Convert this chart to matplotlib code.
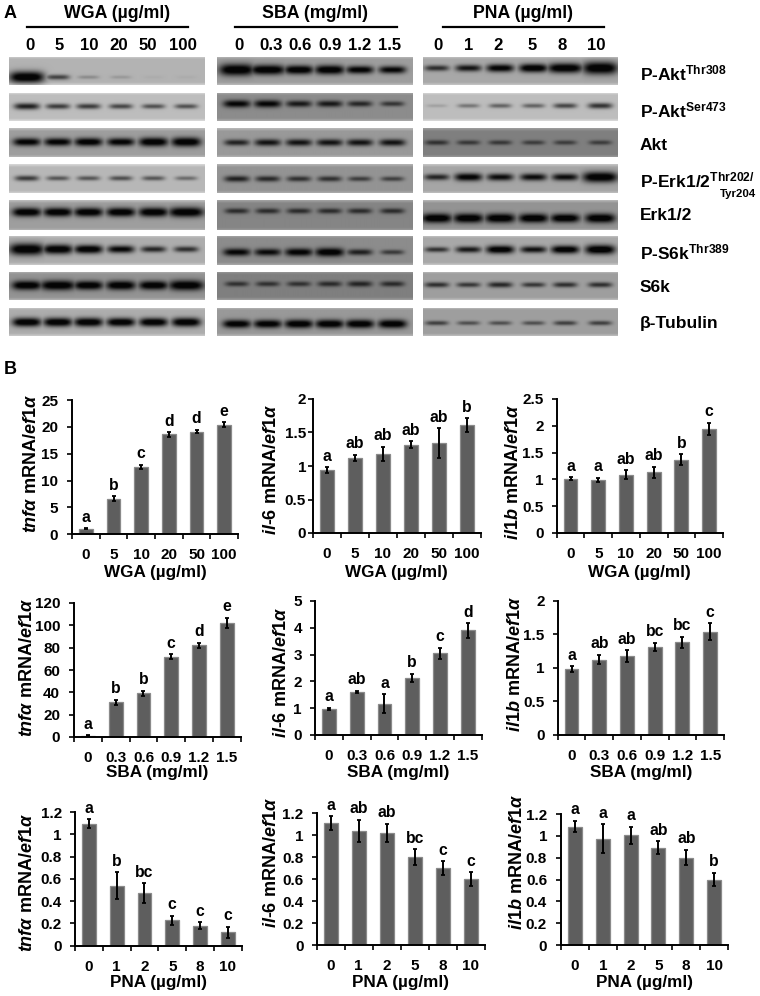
import matplotlib
matplotlib.use('Agg')
import matplotlib.pyplot as plt
import numpy as np

plt.rcParams['font.family'] = ['Liberation Sans', 'DejaVu Sans']
plt.rcParams['font.weight'] = 'bold'
plt.rcParams['mathtext.fontset'] = 'custom'
plt.rcParams['mathtext.rm'] = 'Liberation Sans:bold'
plt.rcParams['mathtext.it'] = 'Liberation Sans:italic:bold'
plt.rcParams['mathtext.bf'] = 'Liberation Sans:bold'

# --- bar chart values
wga_doses = ['0', '5', '10', '20', '50', '100']
sba_doses = ['0', '0.3', '0.6', '0.9', '1.2', '1.5']
pna_doses = ['0', '1', '2', '5', '8', '10']

tnfa_wga = [1.0, 6.6, 12.5, 18.6, 19.1, 20.4]
tnfa_wga_err = [0.1, 0.45, 0.4, 0.4, 0.3, 0.45]
tnfa_wga_sig = ['a', 'b', 'c', 'd', 'd', 'e']
il6_wga = [0.94, 1.12, 1.18, 1.32, 1.34, 1.61]
il6_wga_err = [0.04, 0.05, 0.11, 0.05, 0.22, 0.1]
il6_wga_sig = ['a', 'ab', 'ab', 'ab', 'ab', 'b']
il1b_wga = [1.01, 0.99, 1.09, 1.13, 1.37, 1.94]
il1b_wga_err = [0.03, 0.04, 0.08, 0.1, 0.1, 0.12]
il1b_wga_sig = ['a', 'a', 'ab', 'ab', 'b', 'c']

tnfa_sba = [1, 31, 39, 72, 82, 102.5]
tnfa_sba_err = [0.5, 2.5, 2.5, 2, 2.5, 4.5]
tnfa_sba_sig = ['a', 'b', 'b', 'c', 'd', 'e']
il6_sba = [0.98, 1.6, 1.17, 2.13, 3.05, 3.9]
il6_sba_err = [0.03, 0.04, 0.35, 0.15, 0.2, 0.27]
il6_sba_sig = ['a', 'ab', 'a', 'b', 'c', 'd']
il1b_sba = [0.98, 1.12, 1.17, 1.31, 1.38, 1.54]
il1b_sba_err = [0.04, 0.07, 0.09, 0.06, 0.08, 0.12]
il1b_sba_sig = ['a', 'ab', 'ab', 'bc', 'bc', 'c']

tnfa_pna = [1.095, 0.54, 0.47, 0.23, 0.18, 0.12]
tnfa_pna_err = [0.04, 0.12, 0.09, 0.04, 0.03, 0.05]
tnfa_pna_sig = ['a', 'b', 'bc', 'c', 'c', 'c']
il6_pna = [1.11, 1.04, 1.02, 0.8, 0.7, 0.6]
il6_pna_err = [0.06, 0.1, 0.08, 0.07, 0.06, 0.06]
il6_pna_sig = ['a', 'ab', 'ab', 'bc', 'c', 'c']
il1b_pna = [1.085, 0.975, 1.005, 0.89, 0.8, 0.6]
il1b_pna_err = [0.05, 0.13, 0.08, 0.06, 0.07, 0.06]
il1b_pna_sig = ['a', 'a', 'a', 'ab', 'ab', 'b']

# --- western blot band strengths (rows = proteins, columns = lanes)
proteins = [r'P-Akt$^{\mathrm{Thr308}}$', r'P-Akt$^{\mathrm{Ser473}}$', 'Akt',
            r'P-Erk1/2$^{\mathrm{Thr202/}}$', 'Erk1/2', r'P-S6k$^{\mathrm{Thr389}}$',
            'S6k', 'β-Tubulin']
wga_bands = [[1.3, .35, .12, .08, .02, .02],
             [.55, .4, .4, .35, .3, .3],
             [.75, .75, .8, .75, .9, .95],
             [.4, .28, .28, .3, .28, .22],
             [.9, .9, .9, .9, .95, 1.05],
             [1.35, 1.0, .85, .7, .5, .45],
             [.95, 1.05, .9, .95, .9, 1.1],
             [.9, .9, .9, .85, .85, .9]]
sba_bands = [[1.35, 1.05, .9, .95, .75, .7],
             [.7, .7, .55, .55, .45, .35],
             [.5, .6, .6, .6, .6, .6],
             [.5, .45, .4, .4, .32, .3],
             [.4, .4, .4, .4, .4, .4],
             [.7, .65, .75, .85, .5, .32],
             [.35, .35, .35, .4, .45, .4],
             [.8, .8, .85, .85, .85, .85]]
pna_bands = [[.45, .6, .75, .85, 1.05, 1.45],
             [.08, .2, .25, .25, .35, .45],
             [.35, .3, .3, .28, .28, .28],
             [.5, .75, .65, .65, .65, 1.15],
             [1.0, 1.0, 1.0, .95, .9, 1.0],
             [.4, .55, .8, .6, .8, 1.0],
             [.4, .35, .45, .35, .4, .4],
             [.3, .25, .25, .25, .3, .3]]

# blot layout, in pixels of the 760x996 picture
row_tops = [56.7, 92.7, 128.3, 164, 200, 235.7, 271.7, 307.7]
row_bottoms = [85, 121, 157, 192.7, 230, 265, 300, 336]
wga_bg = [.70, .74, .62, .72, .62, .68, .58, .68]
sba_bg = [.62, .55, .60, .58, .52, .55, .50, .60]
pna_bg = [.66, .74, .50, .65, .58, .66, .62, .62]
wga_ypos = [.73, .49, .47, .48, .39, .47, .49, .52]
sba_ypos = [.47, .40, .49, .50, .35, .57, .44, .58]
pna_ypos = [.41, .47, .49, .44, .59, .48, .47, .55]
wga_lanes = [26.7, 57.7, 88.3, 120.7, 153.3, 186]
sba_lanes = [236, 266.7, 297.7, 328.3, 358.3, 390.7]
pna_lanes = [436.7, 468.3, 500, 533.3, 565, 600]
wga_lane_labels = [30, 59.3, 89.3, 118.7, 148.3, 183]
sba_lane_labels = [238.7, 270.7, 300, 330, 360, 389.3]
pna_lane_labels = [438.3, 468.3, 497.7, 532.3, 561.7, 596.7]
label_y = [73, 110, 145, 180, 216, 252, 287, 323]

W, H = 760, 996
fig = plt.figure(figsize=(W / 100, H / 100), dpi=100, facecolor='white')


def px_axes(x0, y0, x1, y1):
    return fig.add_axes([x0 / W, 1 - y1 / H, (x1 - x0) / W, (y1 - y0) / H])


def ftext(x, y, s, **kw):
    return fig.text(x / W, 1 - y / H, s, **kw)


def draw_blot(x0, x1, bands, bg, ypos, lanes):
    xs = np.arange(x0, x1, 1.0)
    for r in range(8):
        y0, y1 = row_tops[r], row_bottoms[r]
        ys = np.arange(y0, y1, 1.0)
        xx, yy = np.meshgrid(xs, ys)
        dark = np.zeros_like(xx)
        yc = y0 + ypos[r] * (y1 - y0)
        for s, xc in zip(bands[r], lanes):
            wx = 10 + 5 * min(s, 1.0) + (2.5 if s > 1 else 0)
            hy = 1.3 + 3.4 * s
            d = min(1.0, 0.9 * s + 0.25 * min(1, s / 0.3))
            dark = np.maximum(dark, d * np.exp(-np.abs((xx - xc) / wx) ** 4 - ((yy - yc) / hy) ** 2))
        # lighter edge of the membrane
        edge = np.minimum(1, np.abs(yy - y0) / 2.5) * np.minimum(1, np.abs(y1 - yy) / 2.5)
        img = (bg[r] + (1 - edge) * 0.12) * (1 - np.clip(dark * 1.15, 0, 0.97))
        ax = px_axes(x0, y0, x1, y1)
        ax.imshow(img, cmap='gray', vmin=0, vmax=1, aspect='auto', interpolation='bicubic')
        ax.axis('off')


draw_blot(9.3, 204.7, wga_bands, wga_bg, wga_ypos, wga_lanes)
draw_blot(216.7, 411.7, sba_bands, sba_bg, sba_ypos, sba_lanes)
draw_blot(423.3, 618, pna_bands, pna_bg, pna_ypos, pna_lanes)

# blot headers
for name, cx, lx0, lx1, doses, lane_x in [('WGA (µg/ml)', 117, 26.7, 187.7, wga_doses, wga_lane_labels),
                                          ('SBA (mg/ml)', 315.5, 235, 396.7, sba_doses, sba_lane_labels),
                                          ('PNA (µg/ml)', 523, 442.7, 604, pna_doses, pna_lane_labels)]:
    ftext(cx, 13, name, fontsize=12.8, ha='center', va='center')
    fig.add_artist(plt.Line2D([lx0 / W, lx1 / W], [1 - 26.7 / H] * 2, color='black', lw=1.6))
    for d, x in zip(doses, lane_x):
        ftext(x, 45, d, fontsize=12.1, ha='center', va='center')

for p, y in zip(proteins, label_y):
    ftext(640, y, p, fontsize=12.5, ha='left', va='center')
ftext(756, 194, 'Tyr204', fontsize=8.2, ha='right', va='center')

ftext(3.5, 13.5, 'A', fontsize=13, ha='left', va='center')
ftext(3.5, 370, 'B', fontsize=13, ha='left', va='center')

# bar panels: one row per graph
tnfa_lab = r'$\mathit{tnfα}$ mRNA/$\mathit{ef1α}$'
il6_lab = r'$\mathit{il}$-$\mathit{6}$ mRNA/$\mathit{ef1α}$'
il1b_lab = r'$\mathit{il1b}$ mRNA/$\mathit{ef1α}$'
wga_name, sba_name, pna_name = 'WGA (µg/ml)', 'SBA (mg/ml)', 'PNA (µg/ml)'

panels = [
    # box px, values, err, letters, doses, xlabel, ylabel, yticks, ticklabels, ylabel x/y, xlabel y, tick pad
    ((72, 400, 238, 534.3), tnfa_wga, tnfa_wga_err, tnfa_wga_sig, wga_doses, wga_name, tnfa_lab,
     [0, 5, 10, 15, 20, 25], ['0', '5', '10', '15', '20', '25'], (32, 464), 572, 6.5),
    ((313, 399, 480.7, 533), il6_wga, il6_wga_err, il6_wga_sig, wga_doses, wga_name, il6_lab,
     [0, 0.5, 1, 1.5, 2], ['0', '0.5', '1', '1.5', '2'], (272, 470), 572, 1.5),
    ((556.7, 399, 723, 533), il1b_wga, il1b_wga_err, il1b_wga_sig, wga_doses, wga_name, il1b_lab,
     [0, 0.5, 1, 1.5, 2, 2.5], ['0', '0.5', '1', '1.5', '2', '2.5'], (513, 472), 572, 6),
    ((74, 603, 240.7, 737), tnfa_sba, tnfa_sba_err, tnfa_sba_sig, sba_doses, sba_name, tnfa_lab,
     [0, 20, 40, 60, 80, 100, 120], ['0', '20', '40', '60', '80', '100', '120'], (28, 667.5), 772.5, 6.5),
    ((315, 601, 481.7, 735), il6_sba, il6_sba_err, il6_sba_sig, sba_doses, sba_name, il6_lab,
     [0, 1, 2, 3, 4, 5], ['0', '1', '2', '3', '4', '5'], (282, 672.5), 772.5, 6),
    ((557.7, 600.7, 724, 734.7), il1b_sba, il1b_sba_err, il1b_sba_sig, sba_doses, sba_name, il1b_lab,
     [0, 0.5, 1, 1.5, 2], ['0', '0.5', '1', '1.5', '2'], (516, 664), 772.5, 6),
    ((75, 812, 241.7, 945.7), tnfa_pna, tnfa_pna_err, tnfa_pna_sig, pna_doses, pna_name, tnfa_lab,
     [0, 0.2, 0.4, 0.6, 0.8, 1, 1.2], ['0', '0.2', '0.4', '0.6', '0.8', '1', '1.2'], (28, 883), 982, 6),
    ((316.7, 813, 484.7, 945), il6_pna, il6_pna_err, il6_pna_sig, pna_doses, pna_name, il6_lab,
     [0, 0.2, 0.4, 0.6, 0.8, 1, 1.2], ['0', '0.2', '0.4', '0.6', '0.8', '1', '1.2'], (271, 862.5), 982, 6),
    ((561, 814, 728, 945), il1b_pna, il1b_pna_err, il1b_pna_sig, pna_doses, pna_name, il1b_lab,
     [0, 0.2, 0.4, 0.6, 0.8, 1, 1.2], ['0', '0.2', '0.4', '0.6', '0.8', '1', '1.2'], (518, 862.5), 982, 6.5),
]

for box, vals, errs, sig, doses, xname, yname, yticks, ylabs, ypos_lab, xlab_y, pad in panels:
    x0, y0, x1, y1 = box
    ax = px_axes(x0, y0, x1, y1)
    x = np.arange(len(vals))
    ax.bar(x, vals, width=0.5, color='#5e5e5e', edgecolor='#8a8a8a', linewidth=0.9, zorder=2)
    ax.errorbar(x, vals, yerr=errs, fmt='none', ecolor='black', elinewidth=1.4, capsize=1.6,
                capthick=1.3, zorder=3)
    for xi, v, e, s in zip(x, vals, errs, sig):
        ax.annotate(s, (xi, v + e), xytext=(0, 2.6), textcoords='offset points', ha='center',
                    va='bottom', fontsize=11.3, annotation_clip=False)
    ax.set_xlim(-0.5, 5.5)
    ax.set_ylim(0, yticks[-1])
    ax.spines['top'].set_visible(False)
    ax.spines['right'].set_visible(False)
    ax.spines['left'].set_linewidth(1.4)
    ax.spines['bottom'].set_linewidth(1.4)
    ax.set_xticks(np.arange(-0.5, 6, 1))
    ax.set_xticklabels([])
    ax.set_xticks(x, minor=True)
    ax.set_xticklabels(doses, minor=True, fontsize=11)
    ax.tick_params(axis='x', which='major', length=3.5, width=1.2)
    ax.tick_params(axis='x', which='minor', length=0, pad=10)
    ax.set_yticks(yticks)
    ax.set_yticklabels(ylabs, fontsize=11)
    ax.tick_params(axis='y', length=3.5, width=1.2, pad=pad)
    ftext(ypos_lab[0], ypos_lab[1], yname, fontsize=13, rotation=90, ha='center', va='center')
    ftext((x0 + x1) / 2, xlab_y, xname, fontsize=12.3, ha='center', va='center')

fig.savefig('out.png', dpi=100)
